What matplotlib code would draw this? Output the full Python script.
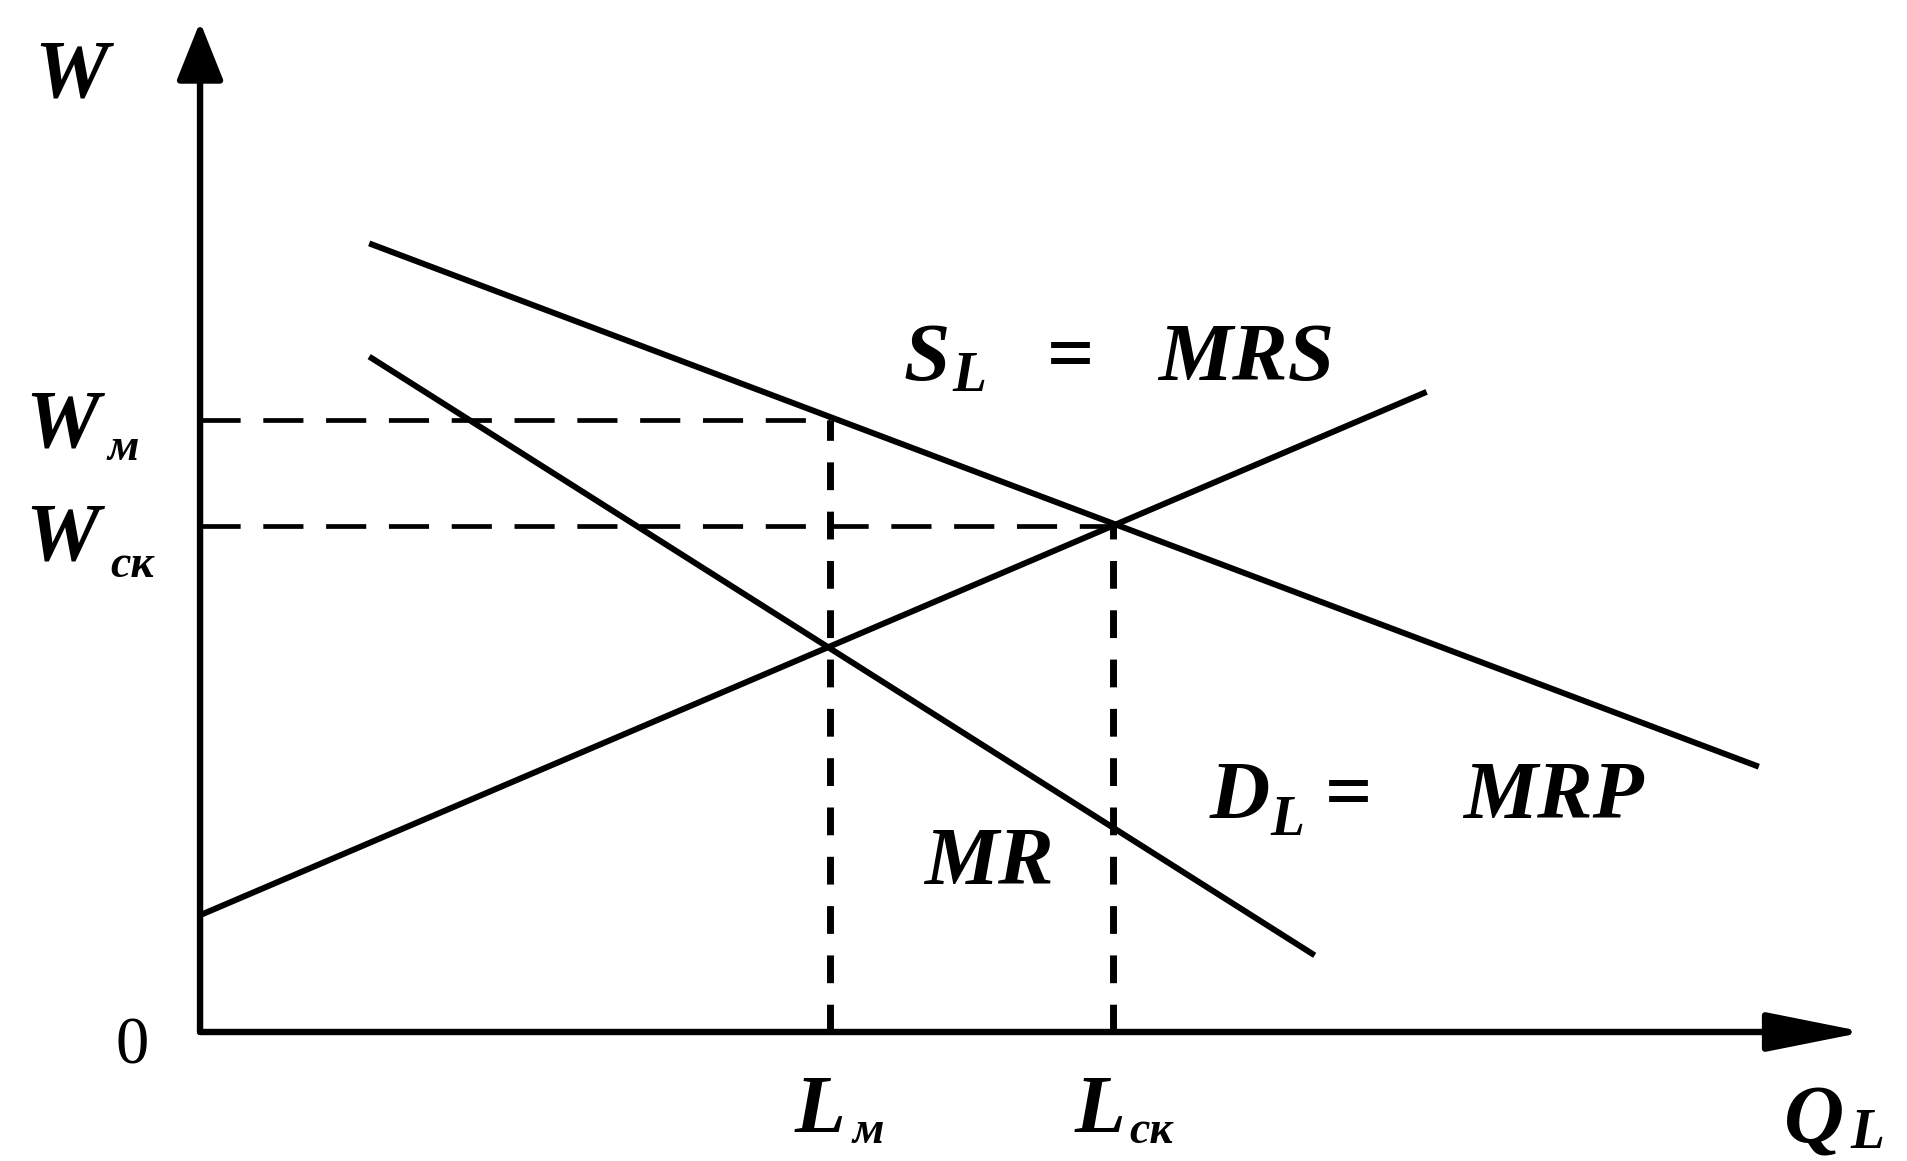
import matplotlib
matplotlib.use("Agg")
from matplotlib import pyplot as plt

# lines (x = Q_L, y = W)
mrp_x = [1.39, 12.81]
mrp_y = [6.48, 2.18]
mrs_x = [1.39, 9.16]
mrs_y = [5.55, 0.63]
sl_x = [0.0, 10.08]
sl_y = [0.96, 5.26]

# equilibrium points
l_m, w_m = 5.18, 5.03
l_c, w_c = 7.50, 4.16

FONT = ['Liberation Serif', 'DejaVu Serif']
BIG = 60
SUB = 33
SUB_L = 40


def label(ax, x, y, text, size=BIG, style='italic'):
    ax.text(x, y, text, fontsize=size, fontweight='bold', fontstyle=style,
            family=FONT, ha='left', va='baseline', color='black')


def main():
    fig = plt.figure(figsize=(19.08, 11.61), dpi=100)
    ax = fig.add_axes([0, 0, 1, 1])
    ax.set_xlim(-1.644, 14.036)
    ax.set_ylim(-1.06, 8.48)
    ax.axis('off')

    # osi sa strelicama
    ax.annotate('', xy=(0, 8.30), xytext=(0, 0),
                arrowprops=dict(arrowstyle='-|>,head_length=0.9,head_width=0.36',
                                mutation_scale=40, lw=4.6, color='black',
                                shrinkA=0, shrinkB=0))
    ax.annotate('', xy=(13.68, 0), xytext=(0, 0),
                arrowprops=dict(arrowstyle='-|>,head_length=1.5,head_width=0.3',
                                mutation_scale=40, lw=4.6, color='black',
                                shrinkA=0, shrinkB=0))

    # krive
    ax.plot(mrp_x, mrp_y, color='black', lw=4.3, solid_capstyle='butt')
    ax.plot(mrs_x, mrs_y, color='black', lw=4.3, solid_capstyle='butt')
    ax.plot(sl_x, sl_y, color='black', lw=4.3, solid_capstyle='butt')

    # isprekidane linije
    ax.plot([0, l_m], [w_m, w_m], color='black', lw=3.4, dashes=(8.5, 4.8))
    ax.plot([0, l_c], [w_c, w_c], color='black', lw=3.4, dashes=(8.5, 4.8))
    ax.plot([l_m, l_m], [0, w_m], color='black', lw=5, dashes=(4, 3.1))
    ax.plot([l_c, l_c], [0, w_c], color='black', lw=5, dashes=(4, 3.1))

    # oznake
    label(ax, -1.36, 7.69, 'W')
    label(ax, -1.44, 4.81, 'W')
    label(ax, -0.76, 4.70, 'м', SUB)
    label(ax, -1.44, 3.88, 'W')
    label(ax, -0.74, 3.74, 'ск', SUB)
    ax.text(-0.56, -0.26, '0', fontsize=48, family=FONT, ha='center',
            va='baseline', color='black')

    label(ax, 4.89, -0.82, 'L')
    label(ax, 5.36, -0.91, 'м', SUB)
    label(ax, 7.19, -0.82, 'L')
    label(ax, 7.64, -0.91, 'ск', SUB)
    label(ax, 13.02, -0.905, 'Q')
    label(ax, 13.56, -0.955, 'L', SUB_L)

    label(ax, 5.78, 5.36, 'S')
    label(ax, 6.18, 5.27, 'L', SUB_L)
    label(ax, 6.96, 5.36, '=', style='normal')
    label(ax, 7.87, 5.36, 'MRS')

    label(ax, 8.30, 1.76, 'D')
    label(ax, 8.80, 1.62, 'L', SUB_L)
    label(ax, 9.24, 1.76, '=', style='normal')
    label(ax, 10.38, 1.76, 'MRP')

    label(ax, 5.95, 1.22, 'MR')

    plt.savefig("out.png", dpi=100, facecolor='white')
    plt.close(fig)


if __name__ == '__main__':
    main()
